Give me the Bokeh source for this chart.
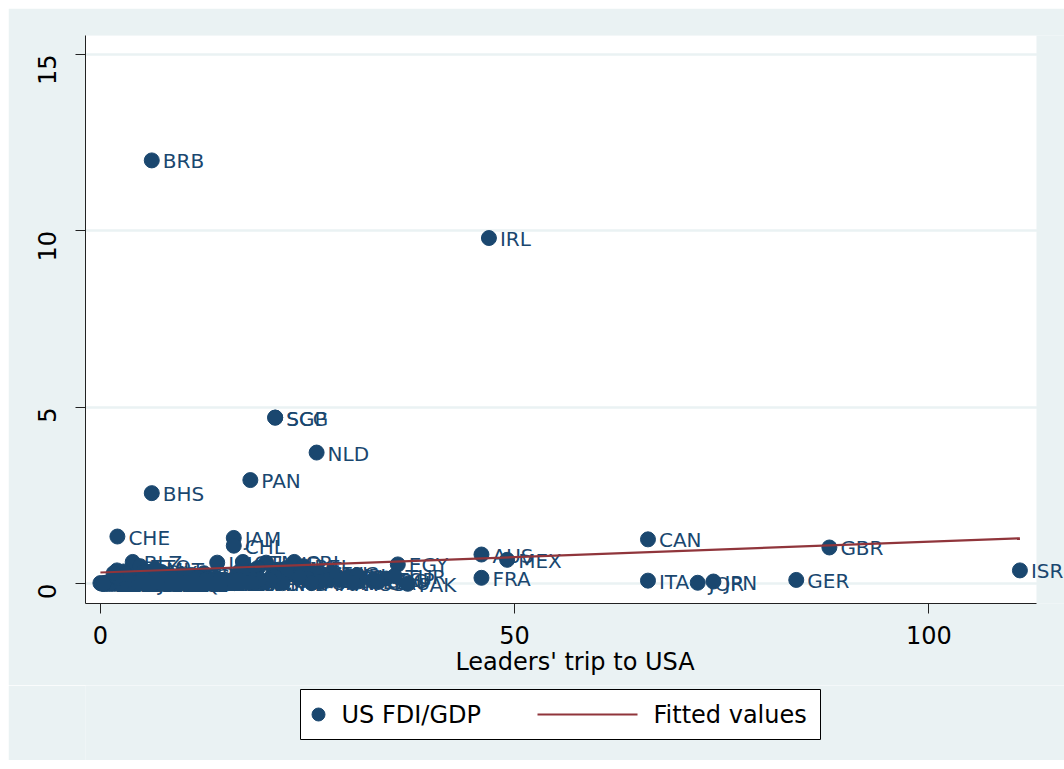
import math
from bokeh.plotting import figure
from bokeh.layouts import column
from bokeh.models import ColumnDataSource, LabelSet, Range1d, FixedTicker
from bokeh.core.properties import value
from bokeh.embed import file_html
from bokeh.resources import INLINE

# ---- data ----
codes = ["BRB", "IRL", "SGP", "SCG", "NLD", "PAN", "BHS", "CHE", "JAM", "CHL",
         "CAN", "GBR", "AUS", "MEX", "ISR", "FRA", "ITA", "JOR", "JPN", "GER",
         "EGY", "PAK", "SLE", "ESP", "TUR", "GRC", "SAU", "PER", "PHL", "RUS",
         "CRI", "HND", "GTM", "DOM", "ISL", "BLZ", "TTO", "ATG", "DNK", "BEL",
         "AUT", "FIN", "NZL", "NIC", "VEN", "ARG", "BRA", "CHN", "COL", "KOR",
         "THA", "IND", "MAR", "SWE", "ZAF", "POL", "TUN", "MYS", "NOR", "URY",
         "AFG", "ALB", "DZA", "AGO", "ARM", "AZE", "BGD", "BLR", "BEN", "BTN",
         "BOL", "BIH", "BWA", "BRN", "BGR", "BFA", "BDI", "KHM", "CMR", "CPV",
         "CAF", "TCD", "COM", "COG", "CIV", "HRV", "CUB", "CYP", "CZE", "COD",
         "DJI", "ECU", "SLV", "GNQ", "ERI", "EST", "ETH", "FJI", "GAB", "GMB",
         "GEO", "GHA", "GRD", "GIN", "GNB", "GUY", "HTI", "HUN", "IDN", "IRN",
         "IRQ", "KAZ", "KEN", "KWT", "KGZ", "LAO", "LVA", "LBN", "LSO", "LBR",
         "LTU", "MDG", "MWI", "MLI", "MLT", "MRT", "MUS", "MDA", "MNG", "MOZ",
         "NAM", "NPL", "NER", "NGA", "OMN", "PNG", "PRY", "PRT", "QAT", "ROU",
         "RWA", "SEN", "SYC", "SVK", "SVN", "LKA", "SDN", "SUR", "SWZ", "SYR",
         "TZA", "TGO", "UGA", "UKR", "ARE", "UZB", "VNM", "YEM", "ZMB", "ZWE",
         "DMA"]
trips = [6.2, 46.9, 21.1, 21.1, 26.1, 18.1, 6.2, 2.05, 16.1, 16.1,
         66.1, 88.0, 46.0, 49.1, 111.0, 46.0, 66.1, 72.1, 74.0, 84.0,
         35.9, 37.1, 31.2, 34.5, 35.5, 33.0, 33.5, 30.0, 31.0, 30.5,
         23.4, 20.0, 17.2, 19.0, 14.1, 3.9, 4.8, 2.0, 21.5, 24.5,
         20.8, 23.0, 27.0, 28.0, 26.0, 25.0, 27.5, 26.5, 28.5, 29.0,
         24.0, 22.0, 25.5, 22.5, 21.0, 20.5, 19.5, 18.5, 16.8, 19.2,
         0.0, 1.0, 3.0, 2.5, 1.5, 3.5, 5.0, 0.5, 2.2, 0.8,
         6.0, 1.2, 4.2, 5.5, 7.0, 3.2, 1.8, 6.5, 7.5, 0.3,
         4.5, 5.8, 0.6, 8.0, 9.0, 6.8, 0.2, 8.5, 10.0, 9.5,
         3.8, 11.0, 12.5, 2.8, 1.4, 7.8, 10.5, 4.8, 9.8, 2.4,
         11.5, 12.0, 3.4, 6.2, 1.1, 5.2, 13.0, 14.0, 16.5, 0.4,
         8.8, 12.8, 15.5, 13.5, 4.0, 3.6, 9.2, 15.0, 5.6, 11.2,
         10.8, 7.2, 8.2, 9.6, 6.6, 5.4, 7.6, 4.4, 6.4, 10.2,
         8.6, 9.4, 7.4, 14.5, 12.2, 10.6, 13.8, 17.5, 11.8, 15.8,
         2.6, 10.4, 2.2, 12.6, 11.4, 13.2, 4.6, 3.0, 1.9, 6.0,
         14.8, 4.9, 16.2, 18.2, 17.0, 8.4, 12.4, 5.7, 6.9, 9.9,
         1.6]
fdi_gdp = [12.0, 9.80, 4.71, 4.71, 3.72, 2.94, 2.57, 1.34, 1.30, 1.08,
           1.26, 1.03, 0.83, 0.68, 0.38, 0.17, 0.09, 0.03, 0.065, 0.11,
           0.55, 0.0, 0.07, 0.15, 0.22, 0.12, 0.05, 0.20, 0.25, 0.03,
           0.62, 0.60, 0.62, 0.45, 0.60, 0.62, 0.50, 0.38, 0.40, 0.50,
           0.25, 0.30, 0.25, 0.30, 0.30, 0.15, 0.10, 0.05, 0.22, 0.10,
           0.18, 0.02, 0.02, 0.45, 0.20, 0.10, 0.03, 0.38, 0.35, 0.12,
           0.02, 0.05, 0.03, 0.12, 0.08, 0.10, 0.01, 0.0, 0.02, 0.0,
           0.18, 0.06, 0.09, 0.20, 0.07, 0.01, 0.0, 0.04, 0.05, 0.01,
           0.0, 0.02, 0.03, 0.15, 0.06, 0.11, 0.0, 0.22, 0.12, 0.02,
           0.01, 0.25, 0.30, 0.35, 0.0, 0.28, 0.01, 0.20, 0.27, 0.04,
           0.05, 0.04, 0.22, 0.03, 0.0, 0.33, 0.08, 0.16, 0.10, 0.0,
           0.0, 0.14, 0.02, 0.03, 0.02, 0.01, 0.10, 0.12, 0.07, 0.03,
           0.09, 0.02, 0.01, 0.01, 0.42, 0.02, 0.13, 0.03, 0.02, 0.02,
           0.06, 0.0, 0.0, 0.10, 0.06, 0.05, 0.07, 0.15, 0.18, 0.04,
           0.0, 0.03, 0.15, 0.10, 0.13, 0.03, 0.0, 0.28, 0.20, 0.0,
           0.01, 0.02, 0.02, 0.03, 0.08, 0.0, 0.01, 0.0, 0.05, 0.02,
           0.30]

fit_x = [0.0, 111.0]
fit_y = [0.32, 1.29]

x_ticks = [0, 50, 100]
y_ticks = [0, 5, 10, 15]

series_labels = ["US FDI/GDP", "Fitted values"]
x_title = "Leaders' trip to USA"

NAVY = "#1A476F"
MAROON = "#90353B"
BG = "#EAF2F3"
FONT = "DejaVu Sans"

X_LO, X_HI = -1.8, 113.0          # plot region
Y_LO, Y_HI = -0.558, 15.54

src = ColumnDataSource(dict(x=trips, y=fdi_gdp, code=codes))

# main chart: frame runs to the right edge so that marker labels are not cut;
# the white plot region is painted only up to X_HI
p = figure(width=1056, height=677, output_backend="svg", toolbar_location=None,
           x_range=Range1d(X_LO, X_HI + 28 / 8.28), y_range=Range1d(Y_LO, Y_HI),
           min_border_left=77, min_border_right=0, min_border_top=27,
           min_border_bottom=82)
p.background_fill_color = BG
p.border_fill_color = BG
p.outline_line_color = None

p.quad(left=[X_LO], right=[X_HI], bottom=[Y_LO], top=[Y_HI],
       fill_color="white", line_color=None, level="image")

# grid
p.xgrid.visible = False
p.ygrid.ticker = FixedTicker(ticks=y_ticks)
p.ygrid.grid_line_color = BG
p.ygrid.grid_line_width = 2.5

# axes
for ax in (p.xaxis[0], p.yaxis[0]):
    ax.minor_tick_line_color = None
    ax.major_tick_out = 10
    ax.major_tick_in = 0
    ax.axis_line_color = "#222222"
    ax.major_tick_line_color = "#222222"
    ax.major_label_text_color = "black"
    ax.major_label_text_font = FONT
    ax.major_label_text_font_size = "24px"

p.xaxis.ticker = FixedTicker(ticks=x_ticks)
p.xaxis.bounds = (X_LO, X_HI)
p.xaxis.major_label_standoff = 12
p.xaxis.axis_label = x_title
p.xaxis.axis_label_text_font = FONT
p.xaxis.axis_label_text_font_size = "24px"
p.xaxis.axis_label_text_font_style = "normal"
p.xaxis.axis_label_text_color = "black"
p.xaxis.axis_label_standoff = 1

p.yaxis.ticker = FixedTicker(ticks=y_ticks)
p.yaxis.major_label_orientation = math.pi / 2
p.yaxis.major_label_standoff = 28

# points
p.scatter("x", "y", source=src, size=15, color=NAVY, line_color=NAVY)

labels = LabelSet(x="x", y="y", text="code", source=src, x_offset=11, y_offset=-1,
                  text_baseline="middle", text_align="left",
                  text_font=value(FONT), text_font_size="20px", text_color=NAVY)
p.add_layout(labels)

# fitted line
p.line(fit_x, fit_y, line_color=MAROON, line_width=2.2, level="overlay")

# ---- legend strip (pixel coordinates of the page; its frame is aligned
#      with the main frame, which spans x = 85 .. 1064) ----
TOP = 685
q = figure(width=1056, height=760 - TOP, output_backend="svg", toolbar_location=None,
           x_range=Range1d(85, 1064), y_range=Range1d(760 - TOP, 0),
           min_border=0, x_axis_location=None, y_axis_location=None)
q.grid.visible = False
q.background_fill_color = BG
q.border_fill_color = BG
q.outline_line_color = None

q.quad(left=[300], right=[820], top=[689 - TOP], bottom=[739 - TOP],
       fill_color="white", line_color="black", line_width=1)
mid = 714 - TOP
q.scatter([318], [mid], size=13, color=NAVY)
q.segment(x0=[537], y0=[mid], x1=[637], y1=[mid], line_color=MAROON, line_width=2.2)
q.text(x=[341, 653], y=[mid, mid], text=series_labels,
       text_font=value(FONT), text_font_size="24px", text_color="black",
       text_baseline="middle", text_align="left")

layout = column(p, q, spacing=0, margin=(8, 0, 0, 8))

open("out.html", "w").write(file_html(layout, INLINE))
